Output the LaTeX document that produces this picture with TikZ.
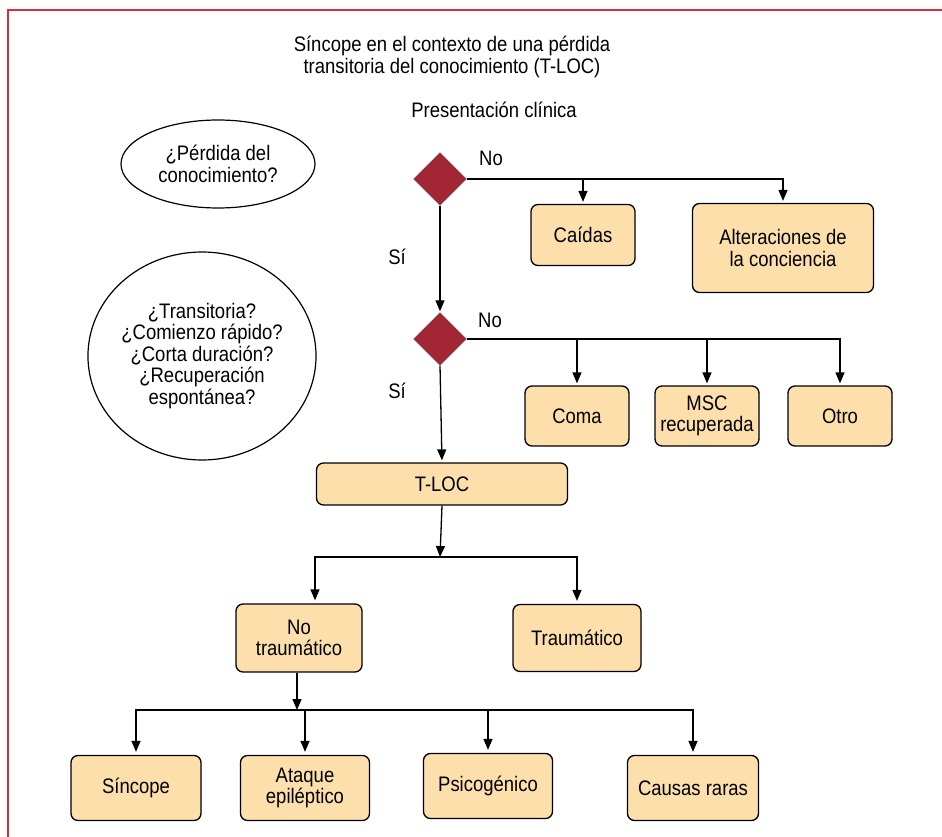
\documentclass[tikz,border=0pt]{standalone}
\usepackage{fontspec}
\setmainfont{Liberation Sans}[FakeStretch=0.88]
\usetikzlibrary{shapes.geometric,arrows.meta}
\definecolor{boxfill}{RGB}{253,223,171}
\definecolor{diafill}{RGB}{163,38,52}
\definecolor{framecol}{RGB}{214,48,62}
\begin{document}
\begin{tikzpicture}[x=1pt,y=-1pt,font=\fontsize{21}{21.5}\selectfont,
  box/.style={draw=black,line width=1.3pt,rounded corners=7pt,fill=boxfill,align=center,inner sep=0pt},
  dec/.style={diamond,aspect=1,draw=black!60,line width=0.4pt,fill=diafill,minimum width=53pt,minimum height=53pt,inner sep=0pt},
  arr/.style={line width=1.3pt,-{Triangle[length=11pt,width=9pt]}},
  oval/.style={ellipse,draw=black,line width=1.2pt,align=center,inner sep=0pt},
  lbl/.style={align=center,inner sep=0pt}]
\useasboundingbox (0,0) rectangle (942,837);
\fill[white] (0,0) rectangle (942,837);
% frame
\coordinate (fa) at (942,10);
\coordinate (fb) at (8,10);
\coordinate (fc) at (8,837);
\draw[framecol,line width=2pt] (fa) -- (fb) -- (fc);
% titles
\node[lbl] (title) at (452,57) {Síncope en el contexto de una pérdida\\transitoria del conocimiento (T-LOC)};
\node[lbl] (pres) at (494,110) {Presentación clínica};
% questions
\node[oval,minimum width=194pt,minimum height=88pt] (q1) at (218,164) {¿Pérdida del\\conocimiento?};
\node[oval,minimum width=228pt,minimum height=208pt] (q2) at (202,356) {¿Transitoria?\\¿Comienzo rápido?\\¿Corta duración?\\¿Recuperación\\espontánea?};
% diamonds
\node[dec] (d1) at (440,179) {};
\node[dec] (d2) at (440,339) {};
\node[lbl] (no1) at (491,158) {No};
\node[lbl] (no2) at (490,320) {No};
\node[lbl] (si1) at (397,257) {Sí};
\node[lbl] (si2) at (397,391) {Sí};
% boxes
\node[box,minimum width=104pt,minimum height=61pt] (cai) at (583,235) {Caídas};
\node[box,minimum width=181pt,minimum height=89pt] (alt) at (783,248) {Alteraciones de\\la conciencia};
\node[box,minimum width=104pt,minimum height=60pt] (coma) at (577,416) {Coma};
\node[box,minimum width=104pt,minimum height=60pt] (msc) at (707,416) {MSC\\recuperada};
\node[box,minimum width=104pt,minimum height=60pt] (otro) at (840,416) {Otro};
\node[box,minimum width=251pt,minimum height=42pt] (tloc) at (442,484) {T-LOC};
\node[box,minimum width=126pt,minimum height=68pt] (nt) at (299,638) {No\\traumático};
\node[box,minimum width=128pt,minimum height=67pt] (tr) at (577,638) {Traumático};
\node[box,minimum width=130pt,minimum height=65pt] (sin) at (136,788) {Síncope};
\node[box,minimum width=129pt,minimum height=65pt] (ata) at (305,788) {Ataque\\epiléptico};
\node[box,minimum width=129pt,minimum height=65pt] (psi) at (488,786) {Psicogénico};
\node[box,minimum width=131pt,minimum height=65pt] (cau) at (693,788) {Causas raras};
% connectors
\draw[arr,shorten >=2pt] (d1.east) -| (alt.north);
\draw[arr,shorten >=2pt] (d1.east -| cai.north) -- (cai.north);
\draw[arr,shorten >=1pt] (d1.south) -- (d2.north);
\draw[arr,shorten >=2pt] (d2.east) -| (otro.north);
\draw[arr,shorten >=2pt] (d2.east -| coma.north) -- (coma.north);
\draw[arr,shorten >=2pt] (d2.east -| msc.north) -- (msc.north);
\draw[arr,shorten >=2pt] (d2.south) -- (tloc.north);
\coordinate (j1) at (440,557);
\draw[arr] (tloc.south) -- (j1);
\draw[arr,shorten >=3pt] (j1) -| ([xshift=16pt]nt.north);
\draw[arr,shorten >=3pt] (j1) -| (tr.north);
\coordinate (j2) at (297,710);
\draw[arr] (nt.south -| j2) -- (j2);
\draw[arr,shorten >=3pt] (j2) -| (sin.north);
\draw[arr,shorten >=3pt] (j2 -| ata.north) -- (ata.north);
\draw[arr,shorten >=3pt] (j2 -| psi.north) -- (psi.north);
\draw[arr,shorten >=3pt] (j2) -| (cau.north);
\end{tikzpicture}
\end{document}
